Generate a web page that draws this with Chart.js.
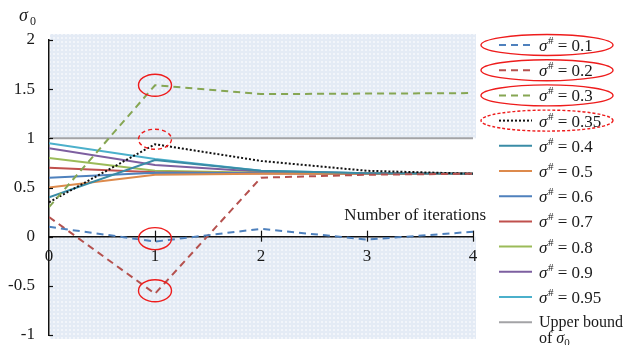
<!DOCTYPE html>
<html>
<head>
<meta charset="utf-8">
<script src="https://cdn.jsdelivr.net/npm/chart.js@4.4.1/dist/chart.umd.min.js"></script>
<style>
  html, body { margin: 0; padding: 0; background: #ffffff; }
  #wrap { position: relative; width: 632px; height: 345px; }
</style>
</head>
<body>
<div id="wrap"><canvas id="c" width="632" height="345"></canvas></div>
<script>
// Iteration index on the x axis
const iterations = [0, 1, 2, 3, 4];
const xTickLabels = ['0', '1', '2', '3', '4'];
const yTickLabels = ['-1', '-0.5', '0', '0.5', '1', '1.5', '2'];

// sigma_0 per iteration for each starting value sigma#
const sigmaLabels = ['0.1', '0.2', '0.3', '0.35', '0.4', '0.5', '0.6', '0.7', '0.8', '0.9', '0.95'];
const s01  = [0.10, -0.05, 0.08, -0.03, 0.05];
const s02  = [0.20, -0.58, 0.60, 0.63, 0.64];
const s03  = [0.30, 1.54, 1.45, 1.455, 1.46];
const s035 = [0.35, 0.94, 0.77, 0.67, 0.64];
const s04  = [0.40, 0.78, 0.67, 0.645, 0.64];
const s05  = [0.50, 0.63, 0.64, 0.64, 0.64];
const s06  = [0.60, 0.65, 0.645, 0.64, 0.64];
const s07  = [0.70, 0.655, 0.645, 0.64, 0.64];
const s08  = [0.80, 0.67, 0.65, 0.64, 0.64];
const s09  = [0.90, 0.73, 0.66, 0.645, 0.64];
const s095 = [0.95, 0.79, 0.67, 0.645, 0.64];
const upperBound = [1, 1, 1, 1, 1];

const seriesValues = [s01, s02, s03, s035, s04, s05, s06, s07, s08, s09, s095];
const seriesColors = ['#4f81bd', '#b5514e', '#86a653', '#111111', '#3a8ca6', '#dd8a4c',
                      '#4f81bd', '#c0504d', '#9bbb59', '#7d5fa0', '#4bb0cb'];
const seriesDash = [[7, 5], [7, 5], [7, 5], [2, 2], [], [], [], [], [], [], []];

const SERIF = '"Liberation Serif", "Times New Roman", serif';
const TEXT = '#1a1a1a';

const datasets = seriesValues.map((vals, i) => ({
  label: 'σ# = ' + sigmaLabels[i],
  data: iterations.map((x, k) => ({ x, y: vals[k] })),
  borderColor: seriesColors[i],
  borderWidth: 2,
  borderDash: seriesDash[i],
  pointRadius: 0,
  tension: 0,
  fill: false
}));
datasets.push({
  label: 'Upper bound of σ0',
  data: iterations.map((x, k) => ({ x, y: upperBound[k] })),
  borderColor: '#a3a3a6',
  borderWidth: 2,
  pointRadius: 0,
  fill: false,
  order: 20
});

// Ellipses marking the first-iteration points of interest: [series index, iteration, dy px, dashed]
const marks = [[2, 1, 0, false], [3, 1, -5, true], [0, 1, -3, false], [1, 1, -3, false]];
// Legend entries that are ringed: [row, dashed]
const legendRings = [[0, false], [1, false], [2, false], [3, true]];

function makePattern(ctx) {
  const p = document.createElement('canvas');
  p.width = 4; p.height = 4;
  const g = p.getContext('2d');
  g.fillStyle = '#e4ebf5';
  g.fillRect(0, 0, 4, 4);
  g.fillStyle = '#f2f5fa';
  g.fillRect(1, 1, 2, 2);
  return ctx.createPattern(p, 'repeat');
}

const decor = {
  id: 'decor',
  beforeDraw(chart) {
    const { ctx, chartArea: a, scales: { y } } = chart;
    ctx.save();
    ctx.fillStyle = makePattern(ctx);
    const l = a.left + 1, r = a.right + 3;
    ctx.fillRect(l, a.top - 6, r - l, y.getPixelForValue(1) - (a.top - 6));
    ctx.fillRect(l, y.getPixelForValue(0), r - l, a.bottom + 4 - y.getPixelForValue(0));
    ctx.restore();
  },
  afterDraw(chart) {
    const { ctx, chartArea: a, scales: { x, y } } = chart;
    ctx.save();
    // tick marks
    ctx.strokeStyle = '#111';
    ctx.lineWidth = 1.2;
    const y0 = y.getPixelForValue(0);
    x.ticks.forEach(t => {
      if (t.value === 0) return;
      const px = Math.round(x.getPixelForValue(t.value)) + 0.5;
      ctx.beginPath(); ctx.moveTo(px, y0 - 6); ctx.lineTo(px, y0 + 5); ctx.stroke();
    });
    y.ticks.forEach(t => {
      const py = Math.round(y.getPixelForValue(t.value)) + 0.5;
      ctx.beginPath(); ctx.moveTo(a.left, py); ctx.lineTo(a.left + 4, py); ctx.stroke();
    });

    // axis captions
    ctx.fillStyle = TEXT;
    ctx.textBaseline = 'alphabetic';
    ctx.font = '17px ' + SERIF;
    ctx.textAlign = 'right';
    ctx.fillText('Number of iterations', a.right + 13, y0 - 17);
    ctx.textAlign = 'left';
    ctx.font = 'italic 18px ' + SERIF;
    ctx.fillText('σ', 19, 21);
    ctx.font = '12px ' + SERIF;
    ctx.fillText('0', 30, 25);

    // ellipses around points
    ctx.strokeStyle = '#ee1c1c';
    ctx.lineWidth = 1.4;
    marks.forEach(([si, it, dy, dashed]) => {
      const px = x.getPixelForValue(iterations[it]);
      const py = y.getPixelForValue(seriesValues[si][it]) + dy;
      ctx.setLineDash(dashed ? [4, 3] : []);
      ctx.beginPath();
      ctx.ellipse(px, py, 16.5, dashed ? 10 : 11, 0, 0, Math.PI * 2);
      ctx.stroke();
    });
    ctx.setLineDash([]);

    // legend
    const lx = 499, tx = 539, top = 45, step = 25.2;
    chart.data.datasets.forEach((ds, i) => {
      const cy = top + i * step;
      ctx.strokeStyle = ds.borderColor;
      ctx.lineWidth = 2;
      ctx.setLineDash(ds.borderDash || []);
      ctx.beginPath(); ctx.moveTo(lx, cy); ctx.lineTo(lx + 33, cy); ctx.stroke();
      ctx.setLineDash([]);
      ctx.fillStyle = TEXT;
      const base = cy + 6;
      if (i < sigmaLabels.length) {
        ctx.font = 'italic 17px ' + SERIF;
        ctx.fillText('σ', tx, base);
        let w = ctx.measureText('σ').width;
        ctx.font = '11px ' + SERIF;
        ctx.fillText('#', tx + w + 0.5, base - 7);
        w += ctx.measureText('#').width + 0.5;
        ctx.font = '17px ' + SERIF;
        ctx.fillText(' = ' + sigmaLabels[i], tx + w, base);
      } else {
        ctx.font = '16px ' + SERIF;
        ctx.fillText('Upper bound', tx, base - 1);
        ctx.fillText('of ', tx, base + 15);
        const w = ctx.measureText('of ').width;
        ctx.font = 'italic 16px ' + SERIF;
        ctx.fillText('σ', tx + w, base + 15);
        const w2 = ctx.measureText('σ').width;
        ctx.font = '11px ' + SERIF;
        ctx.fillText('0', tx + w + w2, base + 18);
      }
    });
    ctx.strokeStyle = '#ee1c1c';
    ctx.lineWidth = 1.4;
    legendRings.forEach(([row, dashed]) => {
      ctx.setLineDash(dashed ? [3, 2] : []);
      ctx.beginPath();
      ctx.ellipse(547, top + row * step, 66, 10.5, 0, 0, Math.PI * 2);
      ctx.stroke();
    });
    ctx.restore();
  }
};

new Chart(document.getElementById('c'), {
  type: 'line',
  data: { datasets },
  plugins: [decor],
  options: {
    responsive: false,
    animation: false,
    devicePixelRatio: 1,
    layout: { padding: { left: 0, right: 159, top: 40, bottom: 10 } },
    plugins: { legend: { display: false }, tooltip: { enabled: false } },
    scales: {
      x: {
        type: 'linear',
        position: { y: 0 },
        min: 0, max: 4,
        afterFit: (s) => { s.paddingLeft = 0; s.paddingRight = 0; s.paddingTop = 0; s.paddingBottom = 0; },
        ticks: {
          stepSize: 1,
          padding: 10,
          color: TEXT,
          font: { family: SERIF, size: 17 },
          callback: (v) => xTickLabels[iterations.indexOf(v)]
        },
        grid: { display: false, drawTicks: false },
        border: { display: true, color: '#111', width: 1.5 }
      },
      y: {
        type: 'linear',
        position: 'left',
        min: -1, max: 2,
        afterFit: (s) => { s.width = 49; s.paddingTop = 0; s.paddingBottom = 0; },
        ticks: {
          stepSize: 0.5,
          padding: 14,
          color: TEXT,
          font: { family: SERIF, size: 17 },
          callback: (v) => yTickLabels[Math.round((v + 1) * 2)]
        },
        grid: { display: false, drawTicks: false },
        border: { display: true, color: '#111', width: 1.5 }
      }
    }
  }
});
</script>
</body>
</html>
